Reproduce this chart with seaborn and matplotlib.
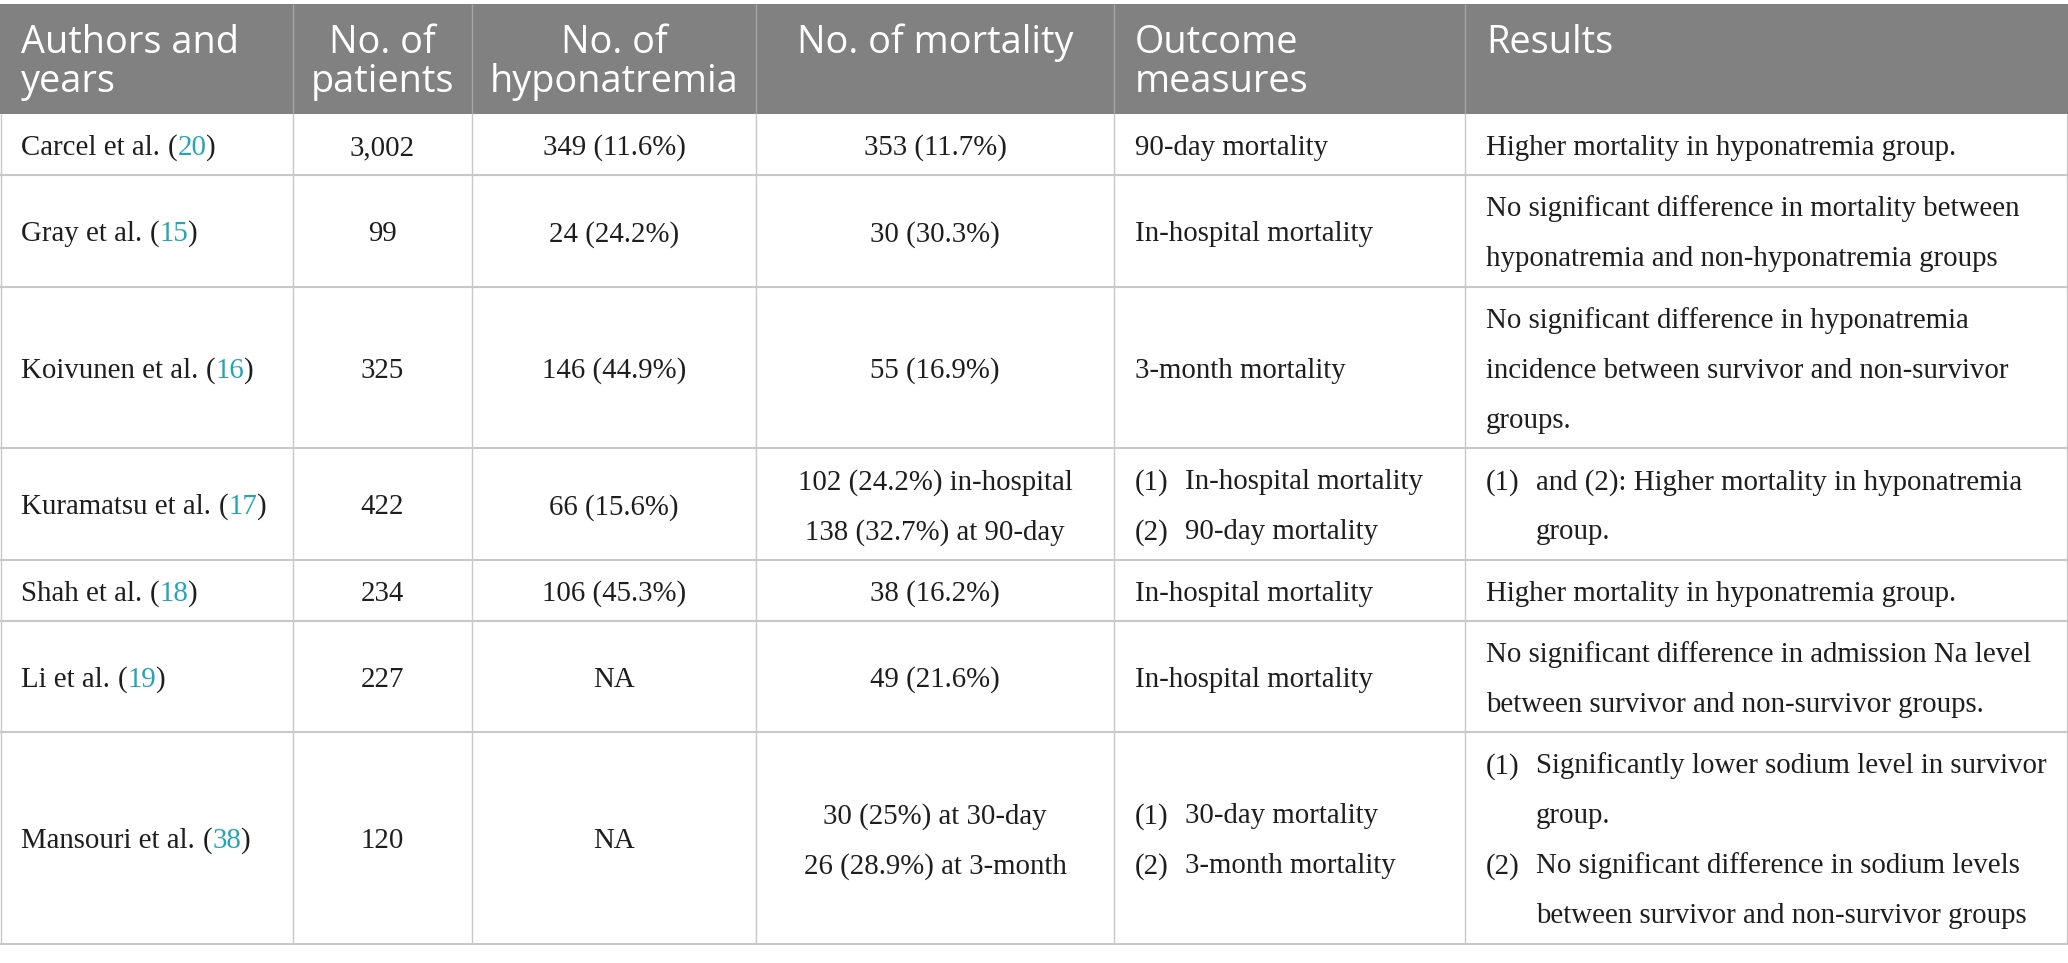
import matplotlib
matplotlib.use("Agg")
import matplotlib.pyplot as plt
import seaborn as sns

# ---------------- data ----------------
headers = [["Authors and", "years"], ["No. of", "patients"], ["No. of", "hyponatremia"],
           ["No. of mortality"], ["Outcome", "measures"], ["Results"]]
authors = ["Carcel et al.", "Gray et al.", "Koivunen et al.", "Kuramatsu et al.",
           "Shah et al.", "Li et al.", "Mansouri et al."]
refs = ["20", "15", "16", "17", "18", "19", "38"]
patients = ["3,002", "99", "325", "422", "234", "227", "120"]
hyponatremia = ["349 (11.6%)", "24 (24.2%)", "146 (44.9%)", "66 (15.6%)",
                "106 (45.3%)", "NA", "NA"]
mortality = [["353 (11.7%)"], ["30 (30.3%)"], ["55 (16.9%)"],
             ["102 (24.2%) in-hospital", "138 (32.7%) at 90-day"],
             ["38 (16.2%)"], ["49 (21.6%)"],
             ["30 (25%) at 30-day", "26 (28.9%) at 3-month"]]
outcomes = [[("", "90-day mortality")], [("", "In-hospital mortality")],
            [("", "3-month mortality")],
            [("(1)", "In-hospital mortality"), ("(2)", "90-day mortality")],
            [("", "In-hospital mortality")], [("", "In-hospital mortality")],
            [("(1)", "30-day mortality"), ("(2)", "3-month mortality")]]
results = [
    [("", "Higher mortality in hyponatremia group.")],
    [("", "No significant difference in mortality between"),
     ("", "hyponatremia and non-hyponatremia groups")],
    [("", "No significant difference in hyponatremia"),
     ("", "incidence between survivor and non-survivor"),
     ("", "groups.")],
    [("(1)", "and (2): Higher mortality in hyponatremia"), (" ", "group.")],
    [("", "Higher mortality in hyponatremia group.")],
    [("", "No significant difference in admission Na level"),
     ("", "between survivor and non-survivor groups.")],
    [("(1)", "Significantly lower sodium level in survivor"), (" ", "group."),
     ("(2)", "No significant difference in sodium levels"),
     (" ", "between survivor and non-survivor groups")],
]

# ---------------- style / layout ----------------
sns.set_theme(style="white")
plt.rcParams["font.family"] = ["Liberation Serif", "DejaVu Serif"]

W, H = 2068, 963
HEADER_BG = "#808180"
HEADER_SEP = "#a4a5a4"
GRID = "#c8c8c8"
TEXT = "#1e1e1e"
TEAL = "#23a5b6"
BODY_FS = 20.8
HEAD_FS = 27.3
HEAD_FONT = ["Open Sans", "DejaVu Sans"]
LS = 50.0          # body line spacing (px)
ROW_PAD = 11.4     # extra row height (px)
CAP_HALF = 10.3    # half cap height of body font (px)
PADX = 21
INDENT = 50

col_edges = [0, 293, 472, 756, 1114, 1465, 2068]
col_align = ["left", "center", "center", "center", "left", "left"]
head_top, head_bot = 4.3, 114
head_base = [53.3, 91.7]

# row edges from content line counts
nlines = [max(1, len(m), len(o), len(r)) for m, o, r in zip(mortality, outcomes, results)]
row_edges = [head_bot]
for n in nlines:
    row_edges.append(row_edges[-1] + ROW_PAD + LS * n)

fig = plt.figure(figsize=(W / 100, H / 100), dpi=100)
ax = fig.add_axes([0, 0, 1, 1])
ax.set_xlim(0, W)
ax.set_ylim(H, 0)
ax.axis("off")

# header background
ax.fill_between([0, W], head_top, head_bot, color=HEADER_BG, lw=0, zorder=1)
ax.vlines(col_edges[1:-1], head_top, head_bot, color=HEADER_SEP, lw=1.0, zorder=2)

# grid
ax.hlines(row_edges[1:], 0, W, color=GRID, lw=1.5, zorder=2)
ax.vlines(col_edges[1:-1], head_bot, row_edges[-1], color=GRID, lw=1.0, zorder=2)
ax.vlines([0.6, W - 1.0], head_bot, row_edges[-1], color=GRID, lw=1.0, zorder=2)

# header text
for j, lines in enumerate(headers):
    if col_align[j] == "left":
        x, ha = col_edges[j] + PADX, "left"
    else:
        x, ha = (col_edges[j] + col_edges[j + 1]) / 2, "center"
    for k, line in enumerate(lines):
        ax.text(x, head_base[k], line, ha=ha, va="baseline", color="white",
                fontsize=HEAD_FS, family=HEAD_FONT, fontweight="normal", zorder=3)


def baselines(i, n):
    c = (row_edges[i] + row_edges[i + 1]) / 2
    return [c + (k - (n - 1) / 2) * LS + CAP_HALF for k in range(n)]


body_kw = dict(fontsize=BODY_FS, color=TEXT, zorder=3)

for i in range(len(authors)):
    # authors with teal reference number
    yb = baselines(i, 1)[0]
    t1 = ax.text(col_edges[0] + PADX, yb, authors[i], ha="left", va="baseline", **body_kw)
    t2 = ax.annotate("(", xy=(1, 0), xycoords=t1, xytext=(7.5, 0),
                     textcoords="offset pixels", ha="left", va="bottom", **body_kw)
    t3 = ax.annotate(refs[i], xy=(1, 0), xycoords=t2, xytext=(0.5, 0),
                     textcoords="offset pixels", ha="left", va="bottom",
                     fontsize=BODY_FS, color=TEAL, zorder=3)
    ax.annotate(")", xy=(1, 0), xycoords=t3, xytext=(-1.5, 0),
                textcoords="offset pixels", ha="left", va="bottom", **body_kw)

    # centered columns
    for j, cell in ((1, [patients[i]]), (2, [hyponatremia[i]]), (3, mortality[i])):
        xc = (col_edges[j] + col_edges[j + 1]) / 2
        for yb, line in zip(baselines(i, len(cell)), cell):
            ax.text(xc, yb, line, ha="center", va="baseline", **body_kw)

    # left aligned numbered columns
    for j, cell in ((4, outcomes[i]), (5, results[i])):
        x0 = col_edges[j] + PADX
        for yb, (mark, line) in zip(baselines(i, len(cell)), cell):
            if mark:
                if mark.strip():
                    ax.text(x0, yb, mark, ha="left", va="baseline", **body_kw)
                ax.text(x0 + INDENT, yb, line, ha="left", va="baseline", **body_kw)
            else:
                ax.text(x0, yb, line, ha="left", va="baseline", **body_kw)

fig.savefig("out.png", dpi=100, facecolor="white")
